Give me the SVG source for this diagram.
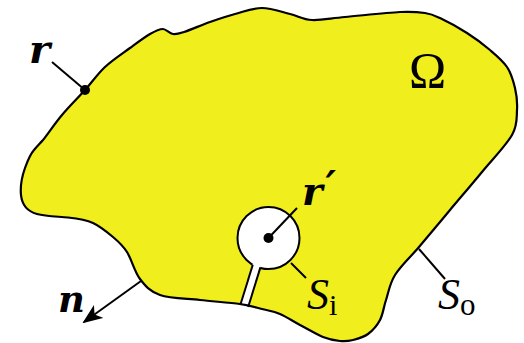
<svg xmlns="http://www.w3.org/2000/svg" width="524" height="343" viewBox="0 0 524 343">
<style>
.ln{stroke:#000;stroke-width:2;fill:none;stroke-linecap:butt}
.edge{stroke:#000;stroke-width:2.2;fill:none;stroke-linejoin:round}
.vec{font-family:"DejaVu Serif",serif;font-weight:bold;font-style:italic}
.sym{font-family:"Liberation Serif",serif}
</style>
<defs>
<path id="blob" d="M85,90 C92.2,82 97.5,74 105,67 C112.5,60 122.5,53.5 130,48 C137.5,42.5 144.5,37.2 150,34 C155.5,30.8 160,29 163,29 C166,29 169.5,33.5 173,34 C176.5,34.5 177.8,34 184,32 C190.2,30 201.5,25 210,22 C218.5,19 226.3,16.3 235,14 C243.7,11.7 252.8,8 262,8 C271.2,8 281.7,12 290,14 C298.3,16 302.8,19.5 312,20 C321.2,20.5 330.3,18.3 345,17 C359.7,15.7 386.7,12.7 400,12 C413.3,11.3 418.3,12 425,13 C431.7,14 433,14.7 440,18 C447,21.3 458.7,27.7 467,33 C475.3,38.3 483.3,44.3 490,50 C496.7,55.7 502.8,60.7 507,67 C511.2,73.3 513.3,80.8 515,88 C516.7,95.2 517.5,102.2 517,110 C516.5,117.8 517.8,124.7 512,135 C506.2,145.3 492.3,159.5 482,172 C471.7,184.5 460.5,197.5 450,210 C439.5,222.5 428.2,236.2 419,247 C409.8,257.8 400.5,266.2 395,275 C389.5,283.8 388.5,292.5 386,300 C383.5,307.5 383,314.3 380,320 C377,325.7 372.5,330.7 368,334 C363.5,337.3 357.7,338.8 353,340 C348.3,341.2 345,341.5 340,341 C335,340.5 329.7,339.7 323,337 C316.3,334.3 307.2,328.8 300,325 C292.8,321.2 286.3,316.7 280,314 C273.7,311.3 268.7,310.7 262,309 C255.3,307.3 250.3,305.5 240,304 C229.7,302.5 213.3,301.5 200,300 C186.7,298.5 170,298.5 160,295 C150,291.5 145.5,286.2 140,279 C134.5,271.8 131.5,259 127,252 C122.5,245 118.7,241.8 113,237 C107.3,232.2 100.2,226.3 93,223 C85.8,219.7 77,218.5 68,217.5 C59,216.5 46,216.5 37,214 C28,211.5 22,205 21,195 C20,185 22.5,175 25,168 C27.5,161 30.5,154 34,150 C38,145 39,144.5 43,140 C48,133.7 55,123.3 62,115 C69,106.7 77.8,98 85,90 Z"/>
<marker id="arrow" viewBox="0 0 20 16" refX="18" refY="8" markerWidth="20" markerHeight="16" markerUnits="userSpaceOnUse" orient="auto">
<path d="M0,0 L20,8 L0,16 L5,8 Z" fill="#000"/>
</marker>
</defs>

<g id="region">
<use href="#blob" fill="#f1ee1d" stroke="none"/>
</g>

<g id="source">
<circle cx="268.5" cy="238" r="31" fill="#fff" stroke="#000" stroke-width="2"/>
<polygon points="254,260 262,262 248.5,307 239.5,305" fill="#fff"/>
<line class="ln" x1="252.8" y1="264.8" x2="240.3" y2="305"/>
<line class="ln" x1="260.4" y1="267.4" x2="248.2" y2="307"/>
<circle cx="268.5" cy="238" r="5" fill="#000"/>
</g>

<g id="boundary">
<use href="#blob" class="edge"/>
<circle cx="85" cy="90" r="5" fill="#000"/>
</g>

<g id="connectors">
<line class="ln" x1="52" y1="62" x2="85" y2="90"/>
<line class="ln" x1="268.5" y1="238" x2="297" y2="208"/>
<line class="ln" x1="291" y1="263" x2="306" y2="278"/>
<line class="ln" x1="419" y1="249" x2="445" y2="279"/>
<line class="ln" x1="141" y1="281" x2="84" y2="322" marker-end="url(#arrow)"/>
</g>

<g fill="#000">
<g id="label-r"><text class="vec" x="29" y="63" font-size="40">r</text></g>
<g id="label-omega"><text class="sym" x="409" y="87" font-size="50">Ω</text></g>
<g id="label-rprime"><text class="vec" x="302" y="205" font-size="39">r<tspan font-family="DejaVu Sans" font-size="40" dx="3" dy="-5">′</tspan></text></g>
<g id="label-n"><text class="vec" x="58" y="312" font-size="37">n</text></g>
<g id="label-si"><text class="sym" x="307" y="309"><tspan font-size="44" font-style="italic">S</tspan><tspan font-size="30" dy="6">i</tspan></text></g>
<g id="label-so"><text class="sym" x="438" y="309"><tspan font-size="44" font-style="italic">S</tspan><tspan font-size="31" dy="6">o</tspan></text></g>
</g>
</svg>
